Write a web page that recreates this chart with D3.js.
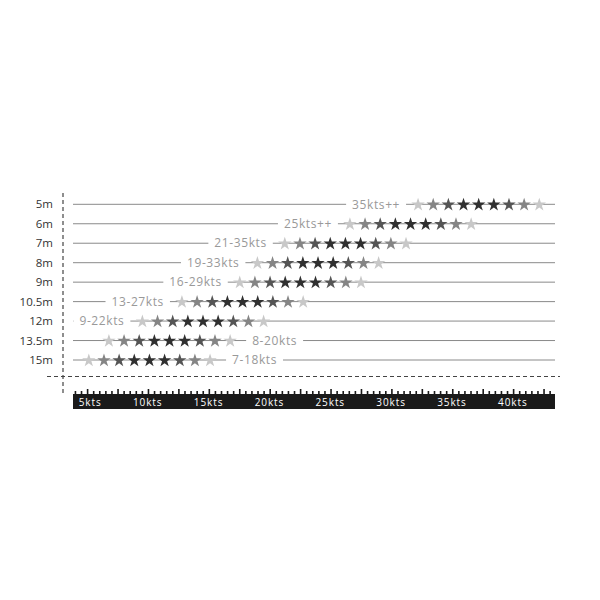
<!DOCTYPE html>
<html>
<head>
<meta charset="utf-8">
<script src="https://cdn.jsdelivr.net/npm/d3@7"></script>
<style>
  body { margin: 0; background: #fff; }
  text { font-family: "Open Sans", "DejaVu Sans", sans-serif; }
</style>
</head>
<body>
<div id="chart"></div>
<script>
// Set up the SVG
const width = 600;
const height = 600;

// Data: kite sizes, wind range labels, where the first star sits (kts), label side
const sizes = ["5m", "6m", "7m", "8m", "9m", "10.5m", "12m", "13.5m", "15m"];
const ranges = ["35kts++", "25kts++", "21-35kts", "19-33kts", "16-29kts", "13-27kts", "9-22kts", "8-20kts", "7-18kts"];
const starStart = [32.15, 26.55, 21.2, 18.95, 17.5, 12.75, 9.5, 6.75, 5.1];
const labelSide = ["left", "left", "left", "left", "left", "left", "left", "right", "right"];
const starShades = ["#c8c8c8", "#858585", "#555555", "#303030", "#303030", "#303030", "#555555", "#858585", "#c8c8c8"];
const starStep = 1.245;
const rulerTicks = [5, 10, 15, 20, 25, 30, 35, 40];

const svg = d3.select("#chart")
    .append("svg")
    .attr("width", width)
    .attr("height", height);

// Scales
const x = d3.scaleLinear()
    .domain([3.8, 43.4])
    .range([73, 555]);

const y = d3.scalePoint()
    .domain(sizes)
    .range([204.3, 360]);

// dashed guides
svg.append("line")
    .attr("x1", 63).attr("x2", 63)
    .attr("y1", 193).attr("y2", 393)
    .attr("stroke", "#444").attr("stroke-width", 1.2)
    .attr("stroke-dasharray", "4,3");

svg.append("line")
    .attr("x1", 47).attr("x2", 560)
    .attr("y1", 376.5).attr("y2", 376.5)
    .attr("stroke", "#444").attr("stroke-width", 1.2)
    .attr("stroke-dasharray", "4,3");

// rows
const rows = sizes.map((s, i) => ({ size: s, range: ranges[i], start: starStart[i], side: labelSide[i] }));

const row = svg.selectAll("g.row")
    .data(rows)
    .enter()
    .append("g")
    .attr("class", "row")
    .attr("transform", d => `translate(0,${y(d.size)})`);

row.append("line")
    .attr("x1", x.range()[0]).attr("x2", x.range()[1])
    .attr("stroke", "#8a8a8a").attr("stroke-width", 1);

row.append("text")
    .attr("x", 53)
    .attr("dy", "0.35em")
    .attr("text-anchor", "end")
    .attr("font-size", 11.5)
    .attr("fill", "#333")
    .text(d => d.size);

// range label with white knockout behind it
const lab = row.append("g")
    .attr("transform", d => d.side === "left"
        ? `translate(${x(d.start) - 18},0)`
        : `translate(${x(d.start + starStep * 8) + 22},0)`);

lab.append("text")
    .attr("dy", "0.35em")
    .attr("text-anchor", d => d.side === "left" ? "end" : "start")
    .attr("font-size", 12)
    .attr("letter-spacing", 0.6)
    .attr("fill", "#999")
    .text(d => d.range);

lab.each(function() {
    const g = d3.select(this);
    const bb = g.select("text").node().getBBox();
    g.insert("rect", "text")
        .attr("x", bb.x - 6).attr("y", -6)
        .attr("width", bb.width + 12).attr("height", 12)
        .attr("fill", "#fff");
});

// stars
const star = d3.symbol().type(d3.symbolStar).size(56);
row.selectAll("path.star")
    .data(d => starShades.map((c, j) => ({ kt: d.start + j * starStep, color: c })))
    .enter()
    .append("path")
    .attr("class", "star")
    .attr("transform", d => `translate(${x(d.kt)},0.5)`)
    .attr("d", star)
    .attr("fill", d => d.color);

// ruler
const ruler = svg.append("g");
ruler.append("rect")
    .attr("x", x.range()[0]).attr("y", 394)
    .attr("width", x.range()[1] - x.range()[0]).attr("height", 15)
    .attr("fill", "#1a1a1a");

const minor = d3.range(4, 43.5, 0.5);
ruler.selectAll("rect.tick")
    .data(minor)
    .enter()
    .append("rect")
    .attr("class", "tick")
    .attr("x", d => x(d) - 0.8)
    .attr("width", 1.6)
    .attr("y", d => d % 2.5 === 0 ? 389 : 391)
    .attr("height", d => d % 2.5 === 0 ? 6 : 4)
    .attr("fill", "#1a1a1a");

ruler.selectAll("text")
    .data(rulerTicks)
    .enter()
    .append("text")
    .attr("x", d => x(d) + 14)
    .attr("y", 406)
    .attr("text-anchor", "end")
    .attr("font-size", 10)
    .attr("letter-spacing", 0.9)
    .attr("fill", "#fff")
    .text(d => d + "kts");
</script>
</body>
</html>
